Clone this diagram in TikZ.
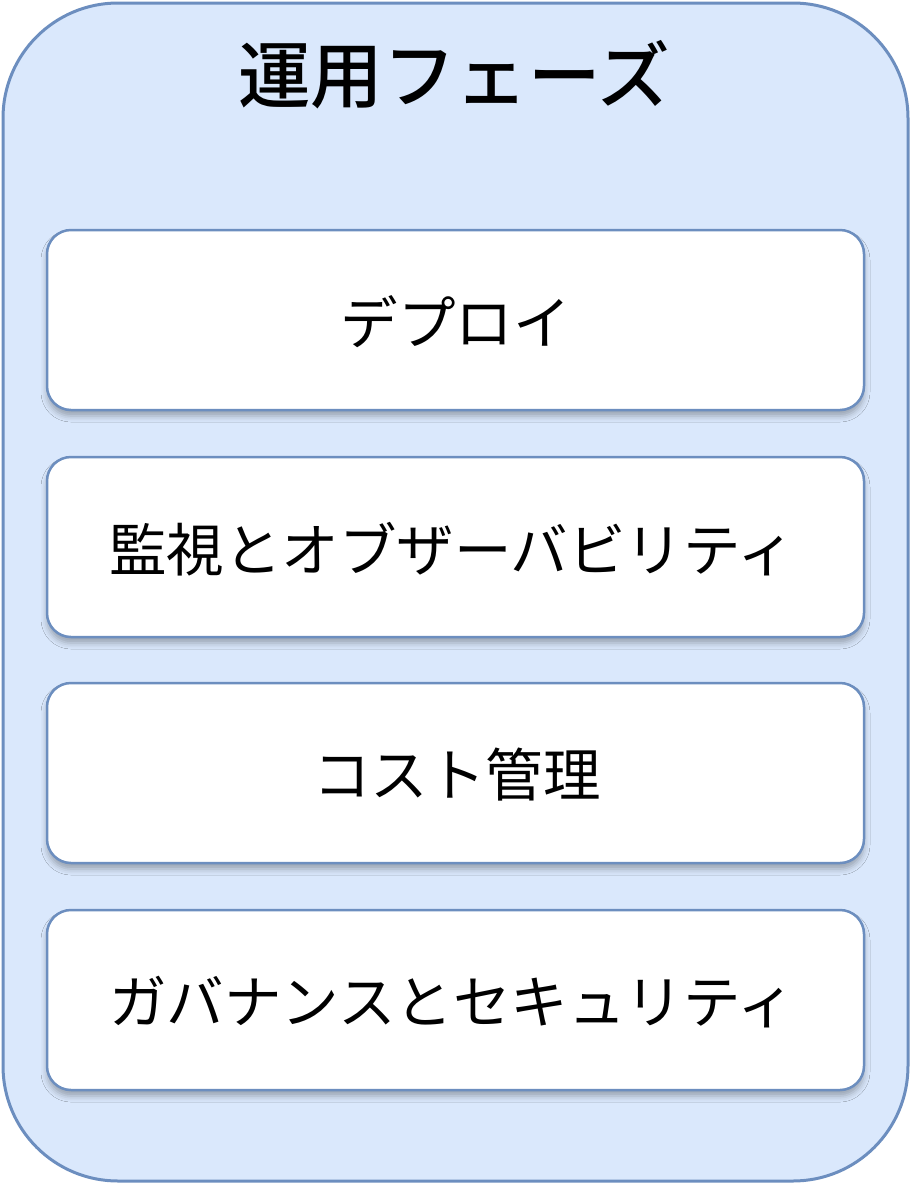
\documentclass[tikz,border=0pt]{standalone}
\usepackage{fontspec}
\setmainfont{Noto Sans CJK JP}
\newfontfamily\jpfont{Noto Sans CJK JP}
\newfontfamily\titlefont{Noto Sans CJK JP Medium}
\usetikzlibrary{shadows.blur}
\definecolor{outerfill}{HTML}{DAE8FC}
\definecolor{edgeblue}{HTML}{6C8EBF}
\tikzset{
  phasebox/.style={draw=edgeblue, fill=outerfill, line width=3pt, rounded corners=115pt},
  itembox/.style={draw=edgeblue, fill=white, line width=2.5pt, rounded corners=24pt,
    blur shadow={shadow xshift=0pt, shadow yshift=-6pt, shadow blur radius=6pt, shadow opacity=30}},
  itemtext/.style={font=\jpfont\fontsize{57.5}{62}\selectfont, text=black},
}
\begin{document}
\begin{tikzpicture}[x=1pt,y=-1pt]
\useasboundingbox (0,0) rectangle (912,1184);
\draw[phasebox] (3,3) rectangle (908,1181);
\node[font=\titlefont\fontsize{72.5}{78}\selectfont] (title) at (454,75) {運用フェーズ};
\draw[itembox] (47,230) rectangle (864,410);
\draw[itembox] (47,457) rectangle (864,637);
\draw[itembox] (47,683) rectangle (864,863);
\draw[itembox] (47,910) rectangle (864,1090);
\node[itemtext] (b1) at (455.5,322) {デプロイ};
\node[itemtext] (b2) at (452,549) {監視とオブザーバビリティ};
\node[itemtext] (b3) at (457,775) {コスト管理};
\node[itemtext] (b4) at (452,1002) {ガバナンスとセキュリティ};
\end{tikzpicture}
\end{document}
